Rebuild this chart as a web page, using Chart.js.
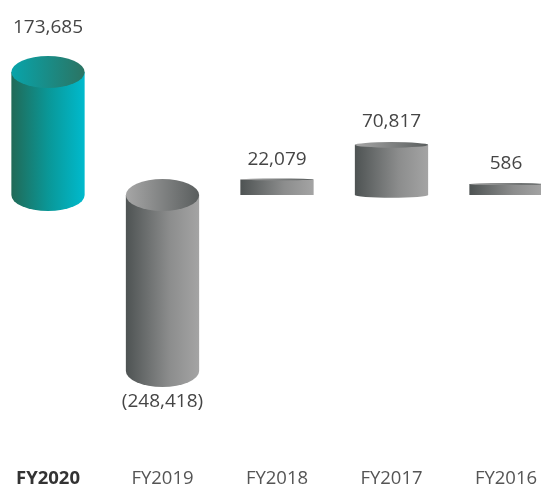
<!DOCTYPE html>
<html lang="en">
<head>
    <meta charset="UTF-8" />
    <title>Cylinder bars FY2016 - FY2020</title>
    <script src="https://cdn.jsdelivr.net/npm/chart.js@4.4.1/dist/chart.umd.min.js"></script>
    <style>
        html, body { margin: 0; padding: 0; background: #ffffff; overflow: hidden; }
        #wrap { width: 541px; height: 486px; }
    </style>
</head>
<body>
    <div id="wrap"><canvas id="chart" width="541" height="486"></canvas></div>
<script type="text/javascript">
    const years = ['FY2020', 'FY2019', 'FY2018', 'FY2017', 'FY2016']; // categories on the x axis
    const values = [173685, -248418, 22079, 70817, 586]; // bar values
    const highlight = [true, false, false, false, false]; // the first year is drawn in teal and bold

    // formatting a value the way the picture does, negatives in brackets
    function fmt(v) {
        const s = Math.abs(v).toLocaleString('en-US');
        return v < 0 ? '(' + s + ')' : s;
    }

    function grad(ctx, left, right, stops) { // horizontal gradient across a bar
        const g = ctx.createLinearGradient(left, 0, right, 0);
        stops.forEach(s => g.addColorStop(s[0], s[1]));
        return g;
    }

    const tealBody = [[0, '#216a57'], [0.5, '#0a9797'], [1, '#00bacd']];
    const tealTop = [[0, '#08a4aa'], [1, '#2b7463']];
    const grayBody = [[0, '#4e5353'], [0.6, '#8c8d8d'], [1, '#a4a4a4']];
    const grayTop = [[0, '#a6a6a6'], [1, '#5a5e5e']];

    // plugin that draws each bar as a cylinder using the bar elements placed by Chart.js
    const cylinders = {
        id: 'cylinders',
        afterDatasetsDraw(chart) {
            const ctx = chart.ctx;
            const meta = chart.getDatasetMeta(0);
            meta.data.forEach((bar, i) => {
                const p = bar.getProps(['x', 'y', 'base', 'width'], true);
                const left = p.x - p.width / 2;
                const right = p.x + p.width / 2;
                const top = Math.min(p.y, p.base);
                const bottom = Math.max(p.y, p.base);
                const h = bottom - top;
                const rx = p.width / 2;
                const ry = Math.max(1, Math.min(16, h * h / 900)); // flatter ends on short bars
                const body = highlight[i] ? tealBody : grayBody;
                const face = highlight[i] ? tealTop : grayTop;

                ctx.save();
                // body with rounded bottom
                ctx.beginPath();
                ctx.moveTo(left, top);
                ctx.lineTo(left, bottom);
                if (h > 20) {
                    ctx.ellipse(p.x, bottom, rx, ry, 0, Math.PI, 0, true);
                } else {
                    ctx.lineTo(right, bottom);
                }
                ctx.lineTo(right, top);
                ctx.closePath();
                ctx.fillStyle = grad(ctx, left, right, body);
                ctx.fill();

                // top face
                ctx.beginPath();
                ctx.ellipse(p.x, top, rx, ry, 0, 0, Math.PI * 2);
                ctx.fillStyle = grad(ctx, left, right, face);
                ctx.fill();

                // value label
                ctx.font = '19px "Open Sans"';
                ctx.fillStyle = '#454545';
                ctx.textAlign = 'center';
                if (values[i] >= 0) {
                    ctx.textBaseline = 'alphabetic';
                    ctx.fillText(fmt(values[i]), p.x, top - 13 - ry * 1.65);
                } else {
                    ctx.textBaseline = 'top';
                    ctx.fillText(fmt(values[i]), p.x, bottom + ry + 5);
                }
                ctx.restore();
            });
        }
    };

    const ctx = document.getElementById('chart').getContext('2d');
    const myChart = new Chart(ctx, {
        type: 'bar',
        data: {
            labels: years,
            datasets: [{
                data: values,
                backgroundColor: 'rgba(0,0,0,0)', // the plugin paints the cylinders
                borderWidth: 0,
                barPercentage: 0.8,
                categoryPercentage: 0.8,
                minBarLength: 11, // the tiny FY2016 bar still shows
                clip: false
            }]
        },
        options: {
            responsive: false,
            animation: false,
            events: [],
            layout: { padding: { left: 48, right: 35, top: 0, bottom: -15 } },
            plugins: { legend: { display: false }, tooltip: { enabled: false } },
            scales: {
                x: {
                    offset: false,
                    grid: { display: false, drawTicks: false },
                    border: { display: false },
                    afterFit: s => { s.paddingLeft = 0; s.paddingRight = 0; }, // let the layout padding place the end bars
                    ticks: {
                        padding: 11,
                        color: ctx => highlight[ctx.index] ? '#333333' : '#555555',
                        font: ctx => ({ family: '"Open Sans"', size: 18.5, weight: highlight[ctx.index] ? 'bold' : 'normal' })
                    }
                },
                y: {
                    display: false,
                    min: -369700,
                    max: 275400
                }
            }
        },
        plugins: [cylinders]
    });
</script>
</body>
</html>
